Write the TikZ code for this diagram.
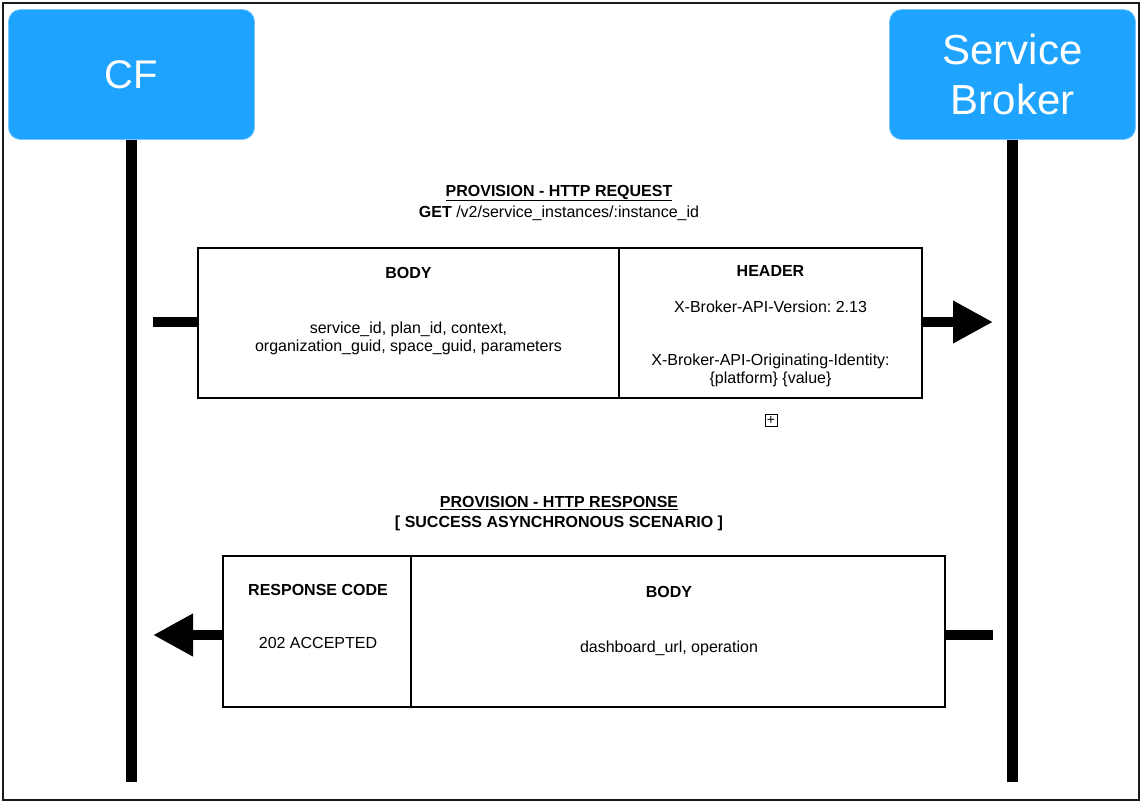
\documentclass[tikz,border=0pt]{standalone}
\usepackage{fontspec}
\setmainfont{Liberation Sans}
\usetikzlibrary{arrows.meta,calc,positioning}
\usepackage{xcolor}
\definecolor{actorblue}{RGB}{30,163,255}
\frenchspacing

\begin{document}
\begin{tikzpicture}[x=1pt, y=-1pt,
  actor/.style={fill=actorblue, draw=actorblue!60, line width=0.8pt, rounded corners=12pt,
    minimum width=246pt, minimum height=130pt, text=white, align=center},
  lifeline/.style={line width=11pt},
  part/.style={draw, line width=2.5pt, minimum height=150pt},
  hd/.style={font=\fontsize{16}{18}\selectfont\bfseries, align=center},
  txt/.style={font=\fontsize{16}{18}\selectfont, align=center},
  msg/.style={line width=10pt}]

\useasboundingbox (0,0) rectangle (1142,803);
\draw[line width=2.5pt, black!90] (3,3) rectangle (1139,800);

% participants
\node[actor, font=\fontsize{40}{50}\selectfont] (cf) at (131.5,74.5) {CF};
\node[actor, font=\fontsize{42}{50}\selectfont] (sb) at (1012.5,74.5) {Service\\Broker};

\coordinate (cfend) at (131.5,782);
\coordinate (sbend) at (1012.5,782);
\draw[lifeline] (cf.south) -- (cfend);
\draw[lifeline] (sb.south) -- (sbend);

% request
\node[hd] (reqtitle) at (559,193) {\underline{PROVISION - HTTP REQUEST}};
\node[txt] (reqpath) at (559,213) {\textbf{GET} /v2/service\_instances/:instance\_id};

\node[part, minimum width=421pt] (reqbody) at (408.5,323) {};
\node[part, minimum width=303pt] (reqhead) at (770.5,323) {};

\node[hd] (reqbodyhd) at (408.5,273) {BODY};
\node[txt] (reqbodytx) at (408.5,338) {service\_id, plan\_id, context,\\organization\_guid, space\_guid, parameters};
\node[hd] (reqheadhd) at (770.5,271) {HEADER};
\node[txt] (reqversion) at (770.5,307) {X-Broker-API-Version: 2.13};
\node[txt] (reqorigin) at (770.5,370) {X-Broker-API-Originating-Identity:\\\{platform\} \{value\}};

\node[draw, line width=0.7pt, minimum size=12pt, inner sep=0pt,
  font=\fontsize{14}{14}\selectfont] (expand) at (771,420) {+};

\coordinate (reqstart) at (153,322);
\coordinate (reqtip) at (993,322);
\draw[msg] (reqstart) -- (reqbody.west |- reqstart);
\draw[msg, -{Triangle[length=40pt, width=40pt]}] (reqhead.east |- reqtip) -- (reqtip);

% response
\node[hd] (restitle) at (559,514) {\underline{PROVISION - HTTP RESPONSE}\\[2pt]{}[ SUCCESS ASYNCHRONOUS SCENARIO ]};

\node[part, minimum width=188pt, minimum height=151pt] (rescode) at (317,631.5) {};
\node[part, minimum width=534pt, minimum height=151pt] (resbody) at (678,631.5) {};

\node[hd] (rescodehd) at (318,590) {RESPONSE CODE};
\node[txt] (rescodetx) at (318,643) {202 ACCEPTED};
\node[hd] (resbodyhd) at (669,592) {BODY};
\node[txt] (resbodytx) at (669,648) {dashboard\_url, operation};

\coordinate (resstart) at (993,635);
\coordinate (restip) at (153,635);
\draw[msg] (resstart) -- (resbody.east |- resstart);
\draw[msg, -{Triangle[length=40pt, width=40pt]}] (rescode.west |- restip) -- (restip);

\end{tikzpicture}
\end{document}
